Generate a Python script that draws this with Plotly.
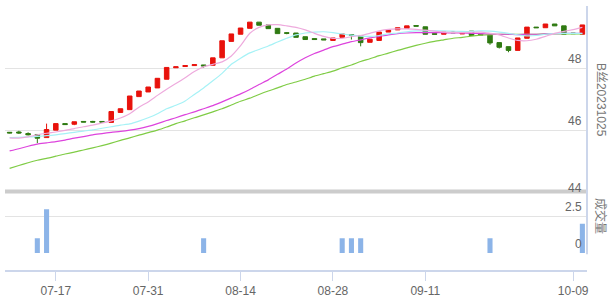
import plotly.graph_objects as go

dates = ["07-10", "07-11", "07-12", "07-13", "07-14", "07-17", "07-18", "07-19", "07-20", "07-21",
         "07-24", "07-25", "07-26", "07-27", "07-28", "07-31",
         "08-01", "08-02", "08-03", "08-04", "08-07", "08-08", "08-09", "08-10", "08-11",
         "08-14", "08-15", "08-16", "08-17", "08-18", "08-21", "08-22", "08-23", "08-24", "08-25",
         "08-28", "08-29", "08-30", "08-31",
         "09-01", "09-04", "09-05", "09-06", "09-07", "09-08", "09-11", "09-12", "09-13", "09-14",
         "09-15", "09-18", "09-19", "09-20", "09-21", "09-22", "09-25", "09-26", "09-27", "09-28",
         "10-07", "10-08", "10-09", "10-10"]

opens = [45.94, 45.95, 45.90, 45.87, 45.77, 46.01, 46.22, 46.20, 46.29, 46.29,
         46.29, 46.26, 46.58, 46.67, 47.09, 47.24, 47.37, 47.65, 48.02, 48.06,
         48.09, 48.11, 48.10, 48.34, 48.87, 49.10, 49.29, 49.49, 49.40, 49.29,
         49.15, 49.14, 49.02, 48.96, 48.95, 48.90, 49.00, 49.09, 49.06, 48.84,
         48.90, 49.17, 49.24, 49.29, 49.38, 49.34, 49.12, 49.10, 49.17, 49.11,
         49.20, 49.10, 49.07, 48.83, 48.70, 48.58, 48.97, 49.33, 49.31, 49.43,
         49.37, 49.14, 49.10]
highs = [45.95, 45.99, 45.94, 45.87, 46.22, 46.22, 46.22, 46.28, 46.29, 46.31,
         46.29, 46.61, 46.70, 47.11, 47.27, 47.40, 47.68, 48.03, 48.05, 48.09,
         48.12, 48.11, 48.34, 48.89, 49.11, 49.30, 49.49, 49.49, 49.40, 49.29,
         49.17, 49.14, 49.02, 48.96, 48.95, 48.98, 49.11, 49.09, 49.06, 48.94,
         49.17, 49.24, 49.31, 49.37, 49.38, 49.34, 49.12, 49.17, 49.20, 49.18,
         49.20, 49.10, 49.07, 48.83, 48.70, 48.98, 49.33, 49.33, 49.43, 49.43,
         49.37, 49.14, 49.40]
lows = [45.91, 45.89, 45.84, 45.59, 45.77, 46.01, 46.19, 46.17, 46.27, 46.25,
        46.27, 46.26, 46.58, 46.67, 47.09, 47.24, 47.37, 47.65, 48.02, 48.06,
        48.09, 48.02, 48.10, 48.34, 48.87, 49.10, 49.29, 49.39, 49.28, 49.12,
        49.10, 49.00, 48.93, 48.93, 48.92, 48.90, 49.00, 48.93, 48.71, 48.84,
        48.90, 49.17, 49.24, 49.29, 49.36, 49.10, 49.10, 49.10, 49.15, 49.11,
        49.06, 49.08, 48.76, 48.64, 48.52, 48.58, 48.97, 49.31, 49.31, 49.37,
        49.10, 49.12, 49.10]
closes = [45.92, 45.92, 45.86, 45.75, 46.03, 46.22, 46.19, 46.28, 46.27, 46.27,
          46.27, 46.61, 46.70, 47.11, 47.27, 47.40, 47.68, 48.03, 48.05, 48.09,
          48.12, 48.08, 48.34, 48.89, 49.11, 49.30, 49.49, 49.39, 49.28, 49.12,
          49.13, 49.00, 48.93, 48.93, 48.92, 48.98, 49.11, 49.07, 48.83, 48.94,
          49.17, 49.24, 49.31, 49.37, 49.36, 49.10, 49.10, 49.17, 49.15, 49.18,
          49.06, 49.08, 48.82, 48.68, 48.58, 48.98, 49.33, 49.31, 49.43, 49.37,
          49.10, 49.12, 49.40]

volume = [0, 0, 0, 1, 3, 0, 0, 0, 0, 0,
          0, 0, 0, 0, 0, 0, 0, 0, 0, 0,
          0, 1, 0, 0, 0, 0, 0, 0, 0, 0,
          0, 0, 0, 0, 0, 0, 1, 1, 1, 0,
          0, 0, 0, 0, 0, 0, 0, 0, 0, 0,
          0, 0, 1, 0, 0, 0, 0, 0, 0, 0,
          0, 0, 2]

ma5 = [45.76, 45.75, 45.79, 45.86, 45.91, 45.95, 46.00, 46.06, 46.12, 46.17,
       46.24, 46.31, 46.40, 46.54, 46.75, 46.92, 47.13, 47.33, 47.51, 47.70,
       47.90, 48.05, 48.13, 48.21, 48.40, 48.73, 49.13, 49.32, 49.40, 49.41,
       49.37, 49.32, 49.24, 49.13, 49.03, 48.97, 48.97, 49.02, 49.06, 49.13,
       49.21, 49.26, 49.27, 49.27, 49.26, 49.23, 49.20, 49.17, 49.16, 49.15,
       49.16, 49.17, 49.13, 49.08, 48.98, 48.90, 48.89, 48.94, 49.03, 49.13,
       49.19, 49.25, 49.32]
ma10 = [45.77, 45.78, 45.79, 45.81, 45.83, 45.86, 45.90, 45.94, 45.98, 46.02,
        46.07, 46.12, 46.17, 46.21, 46.30, 46.41, 46.54, 46.70, 46.81, 46.95,
        47.16, 47.37, 47.60, 47.84, 48.13, 48.33, 48.50, 48.61, 48.72, 48.85,
        48.97, 49.08, 49.14, 49.17, 49.18, 49.15, 49.11, 49.07, 49.04, 49.03,
        49.06, 49.11, 49.14, 49.18, 49.21, 49.21, 49.21, 49.21, 49.20, 49.19,
        49.19, 49.21, 49.20, 49.17, 49.13, 49.08, 49.05, 49.06, 49.10, 49.12,
        49.13, 49.13, 49.13]
ma20 = [45.34, 45.41, 45.49, 45.56, 45.60, 45.64, 45.69, 45.75, 45.80, 45.86,
        45.90, 45.94, 45.97, 46.01, 46.06, 46.13, 46.22, 46.32, 46.41, 46.51,
        46.60, 46.70, 46.80, 46.92, 47.05, 47.18, 47.32, 47.48, 47.63, 47.81,
        47.98, 48.17, 48.34, 48.48, 48.59, 48.70, 48.78, 48.86, 48.92, 48.98,
        49.03, 49.08, 49.12, 49.14, 49.15, 49.15, 49.15, 49.15, 49.14, 49.14,
        49.13, 49.12, 49.11, 49.10, 49.10, 49.09, 49.10, 49.10, 49.11, 49.12,
        49.13, 49.13, 49.13]
ma30 = [44.78, 44.87, 44.96, 45.04, 45.10, 45.17, 45.24, 45.30, 45.37, 45.44,
        45.51, 45.59, 45.68, 45.76, 45.85, 45.93, 46.01, 46.11, 46.22, 46.31,
        46.41, 46.50, 46.60, 46.70, 46.82, 46.94, 47.04, 47.16, 47.27, 47.37,
        47.48, 47.56, 47.65, 47.75, 47.83, 47.91, 48.02, 48.11, 48.22, 48.31,
        48.41, 48.49, 48.58, 48.66, 48.74, 48.81, 48.87, 48.92, 48.97, 49.00,
        49.04, 49.07, 49.09, 49.10, 49.10, 49.10, 49.10, 49.10, 49.11, 49.11,
        49.11, 49.11, 49.11]

x_ticks = ["07-17", "07-31", "08-14", "08-28", "09-11", "10-09"]
price_grid = [44.476, 46, 48, 50]
price_labels = [(44.476, "44", "below"), (46, "46", "above"), (48, "48", "above")]
vol_grid = [0, 2.5]
vol_labels = [(0, "0"), (2.5, "2.5")]
price_title = "B丝20231025"
vol_title = "成交量"

RED = "#e8120c"
GREEN = "#2f7a12"
GRID = "#e3e3e3"
AXIS = "#ccd6eb"
TXT = "#666666"
FONT = "Liberation Sans, Arial, Noto Sans CJK SC, sans-serif"

fig = go.Figure()

for vals, col in [(ma30, "#7fcc45"), (ma20, "#dd44dd"), (ma10, "#a6f2f6"), (ma5, "#eeaadd")]:
    fig.add_trace(go.Scatter(x=dates, y=vals, mode="lines", xaxis="x2", yaxis="y2",
                             line=dict(color=col, width=1.2, shape="spline", smoothing=0.6),
                             hoverinfo="skip"))

fig.add_trace(go.Candlestick(
    x=dates, open=opens, high=highs, low=lows, close=closes,
    xaxis="x2", yaxis="y2", whiskerwidth=0,
    increasing=dict(line=dict(color=RED, width=1), fillcolor=RED),
    decreasing=dict(line=dict(color=GREEN, width=1), fillcolor=GREEN),
))

fig.add_trace(go.Bar(x=dates, y=volume, xaxis="x", yaxis="y",
                     marker=dict(color="#8cb4e8", line=dict(width=0))))

H_TOP, H_BOT, H = 6, 29, 303
plot_h = H - H_TOP - H_BOT


def py(px):
    return (H - H_BOT - px) / plot_h


annotations = []
for val, txt, pos in price_labels:
    annotations.append(dict(text=txt, xref="paper", yref="y2", x=1, y=val,
                            xanchor="right", yanchor="top" if pos == "below" else "bottom",
                            xshift=-3, yshift=-1 if pos == "below" else 0, showarrow=False,
                            font=dict(size=12, color=TXT)))
for val, txt in vol_labels:
    annotations.append(dict(text=txt, xref="paper", yref="y", x=1, y=val,
                            xanchor="right", yanchor="bottom", xshift=-3, showarrow=False,
                            font=dict(size=12, color=TXT)))
annotations += [
    dict(text=price_title, xref="paper", yref="paper", x=1, y=py(101),
         xanchor="center", yanchor="middle", xshift=14, showarrow=False,
         textangle=90, font=dict(size=12, color="#777777")),
    dict(text=vol_title, xref="paper", yref="paper", x=1, y=py(218.5),
         xanchor="center", yanchor="middle", xshift=14, showarrow=False,
         textangle=90, font=dict(size=12, color="#777777")),
]

fig.update_layout(
    width=613, height=303,
    margin=dict(l=5, r=26, t=H_TOP, b=H_BOT),
    paper_bgcolor="white", plot_bgcolor="white",
    showlegend=False, bargap=0.45, boxgap=0.3,
    font=dict(family=FONT, size=12, color=TXT),
    xaxis=dict(type="category", categoryorder="array", categoryarray=dates,
               range=[-0.5, len(dates) - 0.5], domain=[0, 1],
               anchor="free", position=0,
               tickmode="array", tickvals=x_ticks, ticktext=x_ticks,
               ticks="outside", ticklen=9, tickcolor=AXIS, tickwidth=1,
               ticklabeloverflow="allow",
               showline=True, linecolor=AXIS, linewidth=1.5,
               showgrid=False, zeroline=False,
               tickfont=dict(size=12, color=TXT)),
    xaxis2=dict(type="category", matches="x", anchor="y2",
                showticklabels=False, showline=False, showgrid=False,
                zeroline=False, ticks="", rangeslider=dict(visible=False)),
    yaxis=dict(domain=[py(256), py(193)], range=[-0.02, (256 - 193) / 14.8],
               side="right", anchor="x",
               tickmode="array", tickvals=vol_grid, showticklabels=False, ticks="",
               showgrid=True, gridcolor=GRID, gridwidth=1,
               zeroline=False, showline=False),
    yaxis2=dict(domain=[py(180), 1], range=[44.466, 50.01],
                side="right", anchor="x2",
                tickmode="array", tickvals=price_grid, showticklabels=False, ticks="",
                showgrid=True, gridcolor=GRID, gridwidth=1,
                zeroline=False, showline=False),
    shapes=[
        dict(type="line", xref="paper", yref="paper", x0=0, x1=1,
             y0=py(193.5), y1=py(193.5), line=dict(color="#cccccc", width=4)),
        dict(type="line", xref="paper", yref="paper", x0=1, x1=1,
             y0=py(257), y1=1, line=dict(color=AXIS, width=2)),
    ],
    annotations=annotations,
)

fig.write_html("out.html", config=dict(displayModeBar=False))
